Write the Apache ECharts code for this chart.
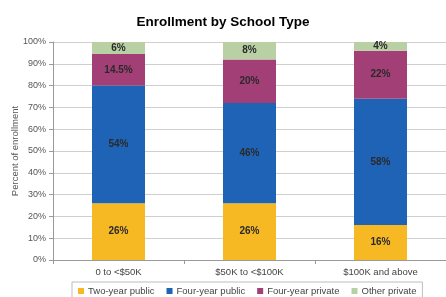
<!DOCTYPE html>
<html>
<head>
<meta charset="utf-8">
<script src="https://cdn.jsdelivr.net/npm/echarts@6/dist/echarts.min.js"></script>
<style>
  html, body { margin: 0; padding: 0; background: #fff; }
  #chart { width: 446px; height: 297px; }
</style>
</head>
<body>
<div id="chart"></div>
<script>
const categories = ['0 to <$50K', '$50K to <$100K', '$100K and above']
const twoYearPublic = [26, 26, 16]
const fourYearPublic = [54, 46, 58]
const fourYearPrivate = [14.5, 20, 22]
const otherPrivate = [6, 8, 4]
const yTicks = [0, 10, 20, 30, 40, 50, 60, 70, 80, 90, 100]

const COLORS = {
  two: '#F7B923',
  four: '#1F63B6',
  priv: '#A23F76',
  other: '#B9CFA4',
}

const chart = echarts.init(document.getElementById('chart'), null, { renderer: 'canvas' })

function series(name, data, color) {
  return {
    name: name,
    type: 'bar',
    stack: 'total',
    data: data,
    barWidth: 53,
    itemStyle: { color: color },
    label: {
      show: true,
      position: 'inside',
      formatter: p => p.value + '%',
      color: '#2a2a2a',
      fontSize: 10,
      fontWeight: 'bold',
      fontFamily: 'Liberation Sans',
    },
  }
}

const option = {
  animation: false,
  title: {
    text: 'Enrollment by School Type',
    left: 'center',
    top: 10,
    textStyle: { fontSize: 13.5, fontWeight: 'bold', color: '#000', fontFamily: 'Liberation Sans' },
  },
  grid: { left: 53, right: 0, top: 42, bottom: 37, outerBoundsMode: 'none', containLabel: false },
  legend: {
    top: 282,
    left: 72,
    icon: 'rect',
    itemWidth: 6,
    itemHeight: 6,
    itemGap: 12,
    padding: [4, 6],
    borderColor: '#bdbdbd',
    borderWidth: 1,
    textStyle: { fontSize: 9.5, color: '#444', fontFamily: 'Liberation Sans', padding: [0, 0, 0, -1] },
    data: ['Two-year public', 'Four-year public', 'Four-year private', 'Other private'],
  },
  xAxis: {
    type: 'category',
    data: categories,
    axisLine: { lineStyle: { color: '#9a9a9a' } },
    axisTick: { show: true, length: 4, lineStyle: { color: '#9a9a9a' } },
    axisLabel: { color: '#444', fontSize: 9.5, fontFamily: 'Liberation Sans', margin: 7 },
  },
  yAxis: {
    type: 'value',
    min: 0,
    max: 100,
    interval: 10,
    name: 'Percent of enrollment',
    nameLocation: 'middle',
    nameGap: 33,
    nameMoveOverlap: false,
    nameTextStyle: { color: '#555', fontSize: 9.5, fontFamily: 'Liberation Sans' },
    axisLine: { show: true, lineStyle: { color: '#9a9a9a' } },
    axisTick: { show: true, length: 4, lineStyle: { color: '#9a9a9a' } },
    axisLabel: { color: '#555', fontSize: 9, fontFamily: 'Liberation Sans', margin: 7, formatter: v => yTicks.includes(v) ? v + '%' : '' },
    splitLine: { lineStyle: { color: '#cfcfcf' } },
  },
  series: [
    series('Two-year public', twoYearPublic, COLORS.two),
    series('Four-year public', fourYearPublic, COLORS.four),
    series('Four-year private', fourYearPrivate, COLORS.priv),
    series('Other private', otherPrivate, COLORS.other),
  ],
}

chart.setOption(option)
</script>
</body>
</html>
